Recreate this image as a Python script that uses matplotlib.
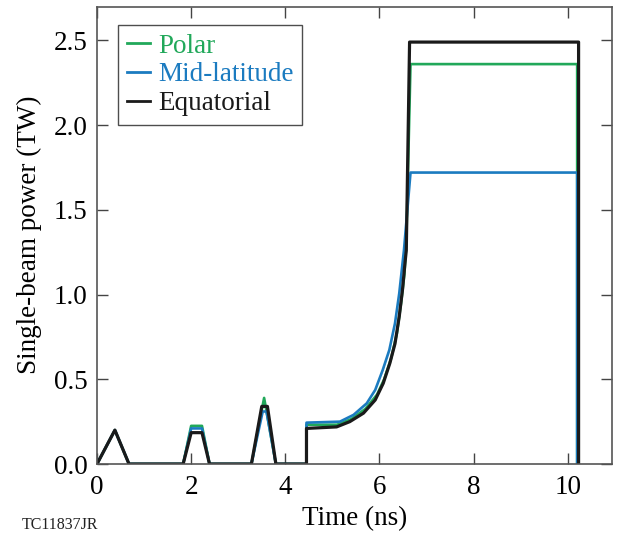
import matplotlib
matplotlib.use("Agg")
import matplotlib.pyplot as plt

plt.rcParams['font.family'] = ['Liberation Serif', 'DejaVu Serif']

# pulse shapes, time in ns and single-beam power in TW
t_polar = [0, 0.38, 0.68, 1.83, 2.0, 2.23, 2.39, 3.28, 3.55, 3.8, 4.45, 4.45,
           5.1, 5.4, 5.7, 5.95, 6.1, 6.25, 6.37, 6.46, 6.53, 6.57, 6.66, 10.2, 10.2]
p_polar = [0, 0.20, 0, 0, 0.225, 0.225, 0, 0, 0.39, 0, 0, 0.232,
           0.232, 0.265, 0.325, 0.41, 0.50, 0.625, 0.77, 0.95, 1.12, 1.30, 2.36, 2.36, 0]

t_mid = [0, 0.38, 0.68, 1.83, 2.0, 2.23, 2.39, 3.28, 3.52, 3.6, 3.8, 4.45, 4.45,
         5.16, 5.45, 5.73, 5.91, 6.07, 6.21, 6.33, 6.42, 6.49, 6.52, 6.66, 10.2, 10.2]
p_mid = [0, 0.20, 0, 0, 0.21, 0.21, 0, 0, 0.31, 0.31, 0, 0, 0.244,
         0.25, 0.29, 0.358, 0.437, 0.555, 0.673, 0.83, 1.006, 1.185, 1.26, 1.72, 1.72, 0]

t_eq = [0, 0.38, 0.68, 1.83, 2.0, 2.23, 2.39, 3.28, 3.5, 3.62, 3.8, 4.45, 4.45,
        5.09, 5.37, 5.66, 5.91, 6.08, 6.22, 6.33, 6.42, 6.49, 6.54, 6.57, 6.64, 10.23, 10.23]
p_eq = [0, 0.20, 0, 0, 0.185, 0.185, 0, 0, 0.34, 0.34, 0, 0, 0.21,
        0.219, 0.25, 0.30, 0.378, 0.476, 0.594, 0.71, 0.87, 1.03, 1.18, 1.26, 2.49, 2.49, 0]

xticks = [0, 2, 4, 6, 8, 10]
yticks = [0.0, 0.5, 1.0, 1.5, 2.0, 2.5]

fig = plt.figure(figsize=(6.18, 5.4), dpi=100)
ax = fig.add_axes([97 / 618, 1 - 464 / 540, 515 / 618, 457.5 / 540])

ax.plot(t_polar, p_polar, color='#21a85a', lw=1.9, label='Polar')
ax.plot(t_mid, p_mid, color='#1b7bc0', lw=1.9, label='Mid-latitude')
ax.plot(t_eq, p_eq, color='#1a1a1a', lw=2.3, label='Equatorial')

ax.set_xlim(0, 10.94)
ax.set_ylim(0, 2.70)
ax.set_xticks(xticks)
ax.set_yticks(yticks)
ax.set_yticklabels([f'{v:.1f}' for v in yticks])
ax.tick_params(direction='in', length=8, width=1.0, color='#444444',
               top=True, right=True, labelsize=19.5, pad=7)
ax.tick_params(axis='x', pad=8)
for s in ax.spines.values():
    s.set_color('#555555')
    s.set_linewidth(1.2)

ax.set_xlabel('Time (ns)', fontsize=19.5, labelpad=4)
ax.set_ylabel('Single-beam power (TW)', fontsize=19.5, labelpad=8)

leg = ax.legend(loc='upper left', bbox_to_anchor=(21 / 515, 1 - 18.5 / 457.5),
                fontsize=19.5, frameon=True, fancybox=False, handlelength=0.85,
                handletextpad=0.3, labelspacing=0.14, borderpad=0.32,
                borderaxespad=0)
leg.get_frame().set_edgecolor('#222222')
leg.get_frame().set_linewidth(1.0)
for txt, line in zip(leg.get_texts(), leg.get_lines()):
    txt.set_color(line.get_color())
    line.set_linewidth(2.0)

fig.text(22 / 618, 1 - 529 / 540, 'TC11837JR', fontsize=11.5, color='#222222')

fig.savefig('out.png', dpi=100)
